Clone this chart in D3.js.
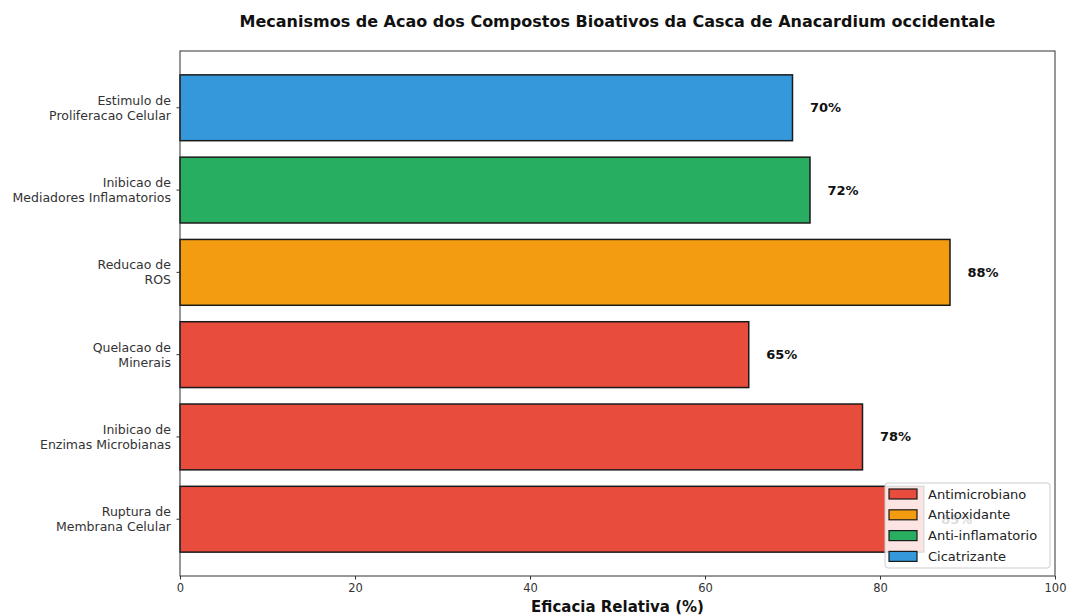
<!DOCTYPE html>
<html>
<head>
<meta charset="utf-8">
<script src="https://cdn.jsdelivr.net/npm/d3@7"></script>
<style>
  html, body { margin: 0; padding: 0; background: #fff; }
  svg { display: block; font-family: "DejaVu Sans", sans-serif; }
</style>
</head>
<body>
<div id="chart"></div>
<script>
// Data, top bar first
const mechanisms = [
  'Estimulo de\nProliferacao Celular',
  'Inibicao de\nMediadores Inflamatorios',
  'Reducao de\nROS',
  'Quelacao de\nMinerais',
  'Inibicao de\nEnzimas Microbianas',
  'Ruptura de\nMembrana Celular'
];
const efficacy = [70, 72, 88, 65, 78, 85];
const mechanismCategory = ['Cicatrizante', 'Anti-inflamatorio', 'Antioxidante', 'Antimicrobiano', 'Antimicrobiano', 'Antimicrobiano'];
const legendCategories = ['Antimicrobiano', 'Antioxidante', 'Anti-inflamatorio', 'Cicatrizante'];
const categoryColors = ['#e74c3c', '#f39c12', '#27ae60', '#3498db'];
const xTicks = [0, 20, 40, 60, 80, 100];

const width = 1070;
const height = 616;
const plot = { left: 180, right: 1055, top: 51, bottom: 576 };

const color = d3.scaleOrdinal().domain(legendCategories).range(categoryColors);

const svg = d3.select('#chart')
  .append('svg')
  .attr('width', width)
  .attr('height', height);

const x = d3.scaleLinear().domain([0, 100]).range([plot.left, plot.right]);
const y = d3.scaleBand()
  .domain(mechanisms)
  .range([plot.top, plot.bottom])
  .paddingInner(0.2)
  .paddingOuter(0.29);

/* Title */
svg.append('text')
  .attr('x', (plot.left + plot.right) / 2)
  .attr('y', 27)
  .attr('text-anchor', 'middle')
  .attr('font-size', 16)
  .attr('font-weight', 700)
  .attr('fill', '#111')
  .text('Mecanismos de Acao dos Compostos Bioativos da Casca de Anacardium occidentale');

/* Bars */
const rows = mechanisms.map((m, i) => ({ name: m, value: efficacy[i], cat: mechanismCategory[i] }));

svg.append('g')
  .selectAll('rect')
  .data(rows)
  .join('rect')
  .attr('x', x(0))
  .attr('y', (d) => y(d.name))
  .attr('width', (d) => x(d.value) - x(0))
  .attr('height', y.bandwidth())
  .attr('fill', (d) => color(d.cat))
  .attr('stroke', '#1a1a1a')
  .attr('stroke-width', 1.5);

/* Value labels */
svg.append('g')
  .selectAll('text')
  .data(rows)
  .join('text')
  .attr('x', (d) => x(d.value + 2))
  .attr('y', (d) => y(d.name) + y.bandwidth() / 2)
  .attr('dy', '0.35em')
  .attr('font-size', 13)
  .attr('font-weight', 700)
  .attr('fill', '#111')
  .text((d) => `${d.value}%`);

/* X axis */
const xAxis = svg.append('g')
  .attr('transform', `translate(0,${plot.bottom})`)
  .call(d3.axisBottom(x).tickValues(xTicks).tickSize(3.5).tickPadding(4).tickFormat(d3.format('d')));
xAxis.select('.domain').remove();
xAxis.selectAll('text').attr('font-size', 11.5).attr('fill', '#333').attr('font-family', 'DejaVu Sans');
xAxis.selectAll('line').attr('stroke', '#333');

/* Y axis */
const yAxis = svg.append('g')
  .attr('transform', `translate(${plot.left},0)`)
  .call(d3.axisLeft(y).tickSize(3.5).tickPadding(4).tickFormat(''));
yAxis.select('.domain').remove();
yAxis.selectAll('line').attr('stroke', '#333');
yAxis.selectAll('.tick').each(function (d) {
  const lines = d.split('\n');
  const t = d3.select(this).append('text')
    .attr('x', -9)
    .attr('text-anchor', 'end')
    .attr('font-size', 12.5)
    .attr('font-family', 'DejaVu Sans')
    .attr('fill', '#333');
  lines.forEach((ln, i) => {
    t.append('tspan')
      .attr('x', -9)
      .attr('y', (i - (lines.length - 1) / 2) * 15)
      .attr('dy', '0.35em')
      .text(ln);
  });
});

/* Frame */
svg.append('rect')
  .attr('x', plot.left)
  .attr('y', plot.top)
  .attr('width', plot.right - plot.left)
  .attr('height', plot.bottom - plot.top)
  .attr('fill', 'none')
  .attr('stroke', '#333')
  .attr('stroke-width', 1);

/* X label */
svg.append('text')
  .attr('x', (plot.left + plot.right) / 2)
  .attr('y', 612)
  .attr('text-anchor', 'middle')
  .attr('font-size', 15)
  .attr('font-weight', 700)
  .attr('fill', '#111')
  .text('Eficacia Relativa (%)');

/* Legend, lower right */
const legend = svg.append('g').attr('transform', `translate(885,483)`);
legend.append('rect')
  .attr('width', 165)
  .attr('height', 85)
  .attr('rx', 3)
  .attr('fill', '#fff')
  .attr('fill-opacity', 0.85)
  .attr('stroke', '#ccc')
  .attr('stroke-width', 1);

legend.selectAll('g.item')
  .data(legendCategories)
  .join('g')
  .attr('class', 'item')
  .attr('transform', (_, i) => `translate(4,${6 + i * 20.8})`)
  .each(function (d) {
    const g = d3.select(this);
    g.append('rect')
      .attr('width', 28)
      .attr('height', 10)
      .attr('fill', color(d))
      .attr('stroke', '#1a1a1a')
      .attr('stroke-width', 1.2);
    g.append('text')
      .attr('x', 39)
      .attr('y', 5)
      .attr('dy', '0.35em')
      .attr('font-size', 13)
      .attr('fill', '#222')
      .text(d);
  });
</script>
</body>
</html>
